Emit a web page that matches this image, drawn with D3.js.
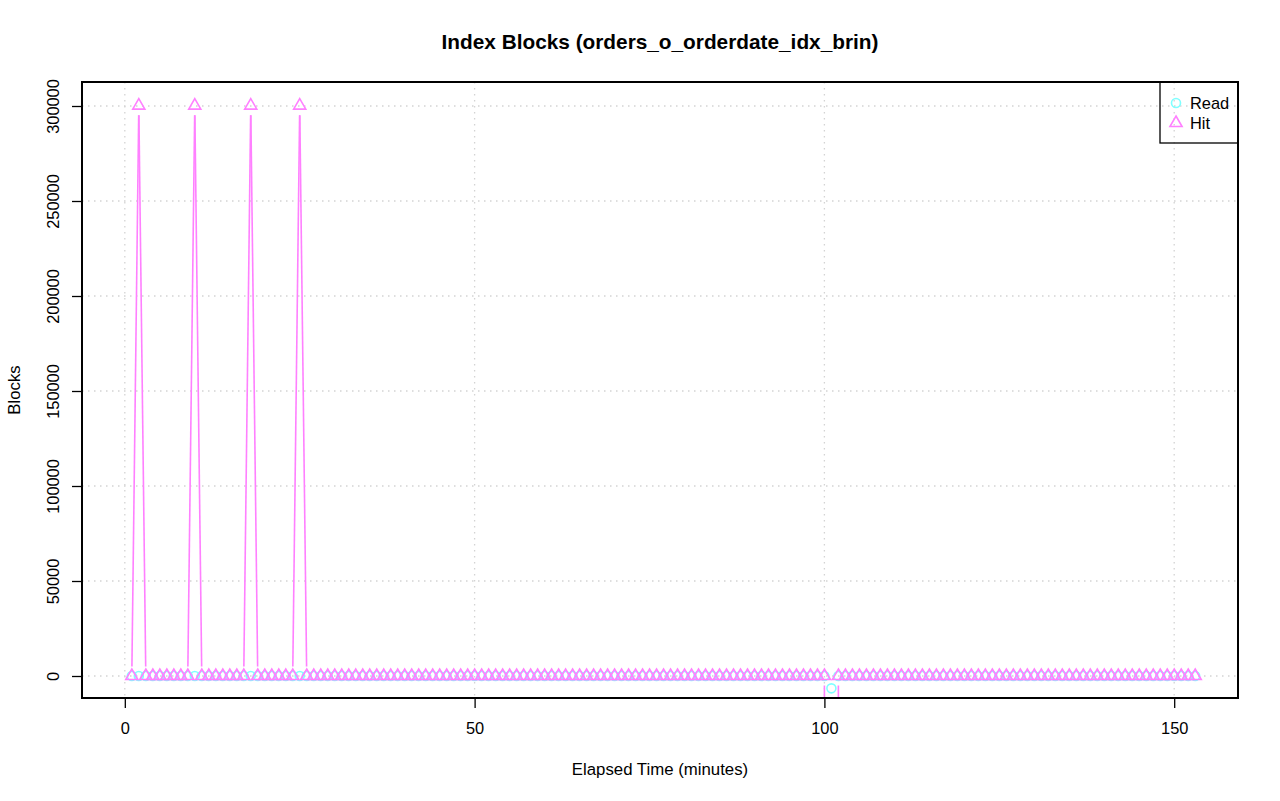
<!DOCTYPE html>
<html>
<head>
<meta charset="utf-8">
<script src="https://cdn.jsdelivr.net/npm/d3@7"></script>
<style>
  body { margin: 0; background: #fff; }
  svg { font-family: "Liberation Sans", Arial, sans-serif; display: block; }
</style>
</head>
<body>
<div id="chart"></div>
<script>
// elapsed minutes, one sample per minute
const minutes = d3.range(1, 154);

// index blocks read from disk
const readBlocks = [
  0, 0, 0, 0, 0, 0, 0, 0, 0, 0,
  0, 0, 0, 0, 0, 0, 0, 0, 0, 0,
  0, 0, 0, 0, 0, 0, 0, 0, 0, 0,
  0, 0, 0, 0, 0, 0, 0, 0, 0, 0,
  0, 0, 0, 0, 0, 0, 0, 0, 0, 0,
  0, 0, 0, 0, 0, 0, 0, 0, 0, 0,
  0, 0, 0, 0, 0, 0, 0, 0, 0, 0,
  0, 0, 0, 0, 0, 0, 0, 0, 0, 0,
  0, 0, 0, 0, 0, 0, 0, 0, 0, 0,
  0, 0, 0, 0, 0, 0, 0, 0, 0, 0,
  -6500, 0, 0, 0, 0, 0, 0, 0, 0, 0,
  0, 0, 0, 0, 0, 0, 0, 0, 0, 0,
  0, 0, 0, 0, 0, 0, 0, 0, 0, 0,
  0, 0, 0, 0, 0, 0, 0, 0, 0, 0,
  0, 0, 0, 0, 0, 0, 0, 0, 0, 0,
  0, 0, 0
];

// index blocks hit in shared buffers
const hitBlocks = [
  0, 300200, 0, 0, 0, 0, 0, 0, 0, 300200,
  0, 0, 0, 0, 0, 0, 0, 300200, 0, 0,
  0, 0, 0, 0, 300200, 0, 0, 0, 0, 0,
  0, 0, 0, 0, 0, 0, 0, 0, 0, 0,
  0, 0, 0, 0, 0, 0, 0, 0, 0, 0,
  0, 0, 0, 0, 0, 0, 0, 0, 0, 0,
  0, 0, 0, 0, 0, 0, 0, 0, 0, 0,
  0, 0, 0, 0, 0, 0, 0, 0, 0, 0,
  0, 0, 0, 0, 0, 0, 0, 0, 0, 0,
  0, 0, 0, 0, 0, 0, 0, 0, 0, 0,
  -5000000, 0, 0, 0, 0, 0, 0, 0, 0, 0,
  0, 0, 0, 0, 0, 0, 0, 0, 0, 0,
  0, 0, 0, 0, 0, 0, 0, 0, 0, 0,
  0, 0, 0, 0, 0, 0, 0, 0, 0, 0,
  0, 0, 0, 0, 0, 0, 0, 0, 0, 0,
  0, 0, 0
];

const xTicks = [0, 50, 100, 150];
const yTicks = [0, 50000, 100000, 150000, 200000, 250000, 300000];
const seriesNames = ["Read", "Hit"];
const seriesColors = ["#80ffff", "#ff80ff"];

const width = 1280, height = 801;
const plot = { left: 82, right: 1238, top: 82, bottom: 698 };

const svg = d3.select("#chart").append("svg")
    .attr("width", width)
    .attr("height", height);

const x = d3.scaleLinear().domain([-6.12, 159.12]).range([plot.left, plot.right]);
const y = d3.scaleLinear().domain([-11579, 312632]).range([plot.bottom, plot.top]);

svg.append("defs").append("clipPath").attr("id", "clip")
  .append("rect")
    .attr("x", plot.left).attr("y", plot.top)
    .attr("width", plot.right - plot.left)
    .attr("height", plot.bottom - plot.top);

// dotted grid at the tick positions
const grid = svg.append("g")
    .attr("stroke", "#d3d3d3")
    .attr("stroke-width", 1.3)
    .attr("stroke-dasharray", "1.5,4.5");
grid.selectAll(".gx").data(xTicks).join("line")
    .attr("x1", d => x(d)).attr("x2", d => x(d))
    .attr("y1", plot.top).attr("y2", plot.bottom);
grid.selectAll(".gy").data(yTicks).join("line")
    .attr("y1", d => y(d)).attr("y2", d => y(d))
    .attr("x1", plot.left).attr("x2", plot.right);

// triangle like R's pch = 2
function triangle(cx, cy, r) {
    const top = 1.5551 * r, half = 1.3468 * r, low = 0.7776 * r;
    return `M${cx},${cy - top}L${cx + half},${cy + low}L${cx - half},${cy + low}Z`;
}

// type = "b": segments shortened so they stop short of the points
const gap = 9.6;
function gappedSegments(values) {
    const pts = minutes.map((m, i) => [x(m), y(values[i])]);
    const segs = [];
    for (let i = 1; i < pts.length; i++) {
        const [x0, y0] = pts[i - 1], [x1, y1] = pts[i];
        const dx = x1 - x0, dy = y1 - y0, len = Math.hypot(dx, dy);
        if (len <= 2 * gap) continue;
        const ux = dx / len, uy = dy / len;
        segs.push([x0 + ux * gap, y0 + uy * gap, x1 - ux * gap, y1 - uy * gap]);
    }
    return segs;
}

const marks = svg.append("g").attr("clip-path", "url(#clip)");
const r = 4.5;

[readBlocks, hitBlocks].forEach((values, k) => {
    const g = marks.append("g")
        .attr("stroke", seriesColors[k])
        .attr("stroke-width", 1.6)
        .attr("fill", "none");

    g.selectAll("line").data(gappedSegments(values)).join("line")
        .attr("x1", d => d[0]).attr("y1", d => d[1])
        .attr("x2", d => d[2]).attr("y2", d => d[3]);

    if (k === 0) {
        g.selectAll("circle").data(values).join("circle")
            .attr("cx", (d, i) => x(minutes[i]))
            .attr("cy", d => y(d))
            .attr("r", r);
    } else {
        g.selectAll("path").data(values).join("path")
            .attr("d", (d, i) => triangle(x(minutes[i]), y(d), r));
    }
});

// axes
const xAxis = svg.append("g")
    .attr("transform", `translate(0,${plot.bottom})`)
    .call(d3.axisBottom(x).tickValues(xTicks).tickSize(10).tickPadding(0));
xAxis.select(".domain").remove();
xAxis.selectAll("line").attr("stroke", "#000").attr("stroke-width", 1.3);
xAxis.selectAll("text")
    .attr("y", 36).attr("dy", 0)
    .attr("font-size", 16.4).attr("fill", "#000")
    .attr("font-family", "Liberation Sans, Arial, sans-serif");

const yAxis = svg.append("g")
    .attr("transform", `translate(${plot.left},0)`)
    .call(d3.axisLeft(y).tickValues(yTicks).tickSize(10).tickFormat(d3.format("d")));
yAxis.select(".domain").remove();
yAxis.selectAll("line").attr("stroke", "#000").attr("stroke-width", 1.3);
yAxis.selectAll("text")
    .attr("x", 0).attr("y", 0).attr("dy", 0)
    .attr("transform", "translate(-23,0) rotate(-90)")
    .attr("text-anchor", "middle")
    .attr("font-size", 16.4).attr("fill", "#000")
    .attr("font-family", "Liberation Sans, Arial, sans-serif");

// plot box
svg.append("rect")
    .attr("x", plot.left).attr("y", plot.top)
    .attr("width", plot.right - plot.left)
    .attr("height", plot.bottom - plot.top)
    .attr("fill", "none").attr("stroke", "#000").attr("stroke-width", 2);

// titles
const cx = (plot.left + plot.right) / 2;
svg.append("text")
    .attr("x", cx).attr("y", 49)
    .attr("text-anchor", "middle")
    .attr("font-size", 20.8).attr("font-weight", "bold")
    .text("Index Blocks (orders_o_orderdate_idx_brin)");

svg.append("text")
    .attr("x", cx).attr("y", 775)
    .attr("text-anchor", "middle")
    .attr("font-size", 16.8)
    .text("Elapsed Time (minutes)");

svg.append("text")
    .attr("transform", `translate(20,${(plot.top + plot.bottom) / 2}) rotate(-90)`)
    .attr("text-anchor", "middle")
    .attr("font-size", 16.8)
    .text("Blocks");

// legend, top right, no fill
const legend = svg.append("g");
legend.append("rect")
    .attr("x", 1160).attr("y", plot.top)
    .attr("width", plot.right - 1160).attr("height", 61)
    .attr("fill", "none").attr("stroke", "#000").attr("stroke-width", 1.3);

const rows = legend.selectAll("g.row").data(seriesNames).join("g")
    .attr("transform", (d, i) => `translate(1176,${103 + i * 20})`);
rows.each(function (d, i) {
    const row = d3.select(this);
    if (i === 0) {
        row.append("circle").attr("r", r)
            .attr("fill", "none").attr("stroke", seriesColors[i]).attr("stroke-width", 1.6);
    } else {
        row.append("path").attr("d", triangle(0, 0, r))
            .attr("fill", "none").attr("stroke", seriesColors[i]).attr("stroke-width", 1.6);
    }
    row.append("text")
        .attr("x", 14).attr("dy", "0.35em")
        .attr("font-size", 16.4)
        .text(d);
});
</script>
</body>
</html>
